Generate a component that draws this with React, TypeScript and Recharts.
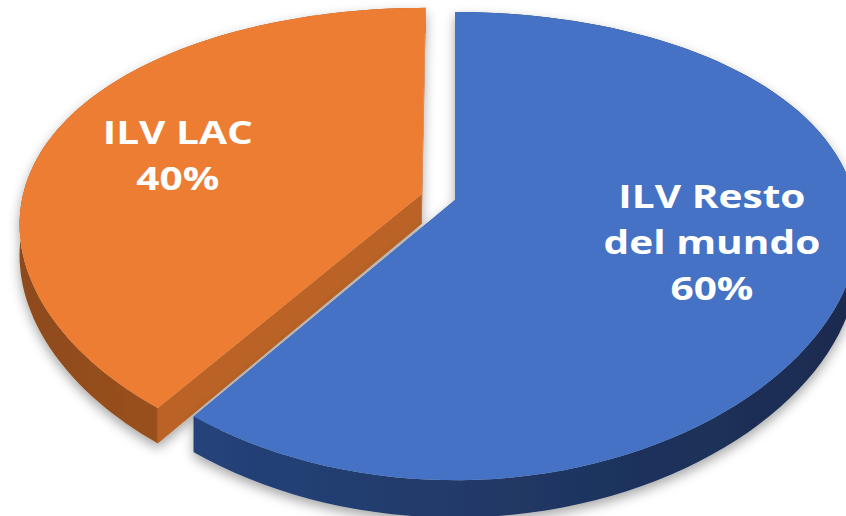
import { PieChart, Pie } from 'recharts';

// shares of ILV
const categories = ['ILV LAC', 'ILV Resto del mundo'];
const shares = [40, 60];

const topColors = ['#ED7D31', '#4472C4'];
const sideColors = [
  ['#8E4A1C', '#B05C26'],
  ['#25437A', '#1B2B4E'],
];
const edgeColors = ['#BB6327', '#2C4C88'];

const data = categories.map((name, i) => ({ name, value: shares[i] }));

// fake 3D look: tilt + a little perspective
const TILT = 0.5625;
const PERSP_Y = 0.197;
const PERSP_X = 0.124;
const DEPTH = 30;
const EXPLODED = 0;
const EXPLODE_DIST = 35;

const rad = (a: number) => (a * Math.PI) / 180;

function project(cx: number, cy: number, R: number, px: number, pz: number, drop = 0): [number, number] {
  const t = -pz / R;
  const sx = 1 / (1 - PERSP_X * t);
  const sy = 1 / (1 - PERSP_Y * t);
  return [cx + px * sx, cy + (-pz * TILT + drop) * sy];
}

function offsetFor(index: number, mid: number) {
  const d = index === EXPLODED ? EXPLODE_DIST : 0;
  return [d * Math.cos(rad(mid)), d * Math.sin(rad(mid))];
}

const toPath = (pts: [number, number][]) =>
  'M' + pts.map((p) => p[0].toFixed(1) + ',' + p[1].toFixed(1)).join('L') + 'Z';

function Slice3D(props: any) {
  const { cx, cy, outerRadius: R, startAngle, endAngle, index } = props;
  const mid = (startAngle + endAngle) / 2;
  const [ox, oz] = offsetFor(index, mid);
  const at = (r: number, a: number, drop = 0) =>
    project(cx, cy, R, ox + r * Math.cos(rad(a)), oz + r * Math.sin(rad(a)), drop);

  const steps = 100;
  const arc = (drop: number) =>
    Array.from({ length: steps + 1 }, (_, k) => at(R, startAngle + ((endAngle - startAngle) * k) / steps, drop));
  const top = arc(0);
  const low = arc(DEPTH);
  const c0 = at(0, 0, 0);
  const c1 = at(0, 0, DEPTH);

  const band = toPath([...top, ...[...low].reverse()]);
  const edgeA = toPath([c0, top[0], low[0], c1]);
  const edgeB = toPath([c0, top[steps], low[steps], c1]);
  const face = toPath([c0, ...top]);

  return (
    <g filter="url(#pieShadow)">
      <path d={edgeA} fill={edgeColors[index]} />
      <path d={edgeB} fill={edgeColors[index]} />
      <path d={band} fill={`url(#side-${index})`} />
      <path d={face} fill={topColors[index]} />
    </g>
  );
}

function wrap(text: string, max: number) {
  const lines: string[] = [];
  let cur = '';
  text.split(' ').forEach((w) => {
    if (cur && (cur + ' ' + w).length > max) {
      lines.push(cur);
      cur = w;
    } else {
      cur = cur ? cur + ' ' + w : w;
    }
  });
  if (cur) lines.push(cur);
  return lines;
}

const renderLabel = (p: any) => {
  const { cx, cy, outerRadius: R, midAngle, index, percent, name } = p;
  const [ox, oz] = offsetFor(index, midAngle);
  const r = R * 0.66;
  const [x, y] = project(
    cx,
    cy,
    R,
    ox + r * Math.cos(rad(midAngle)),
    (oz + r * Math.sin(rad(midAngle))) * 0.9
  );
  const lines = [...wrap(name, 10), `${Math.round(percent * 100)}%`];
  const lh = 46;
  const first = y - ((lines.length - 1) * lh) / 2 + 11.5;
  return (
    <g key={`lbl-${index}`}>
      {lines.map((ln, i) => (
        <text
          key={i}
          transform={`translate(${x},${first + i * lh}) scale(1.27,1)`}
          textAnchor="middle"
          fill="#ffffff"
          fontFamily="'Open Sans', sans-serif"
          fontWeight={700}
          fontSize={32}
        >
          {ln}
        </text>
      ))}
    </g>
  );
};

export default function App() {
  return (
    <div style={{ position: 'absolute', left: 0, top: 0, width: 846, height: 516, background: '#fff', overflow: 'hidden' }}>
      <PieChart width={846} height={516} margin={{ top: 0, right: 0, bottom: 0, left: 0 }}>
        <defs>
          <filter id="pieShadow" x="-20%" y="-20%" width="140%" height="150%">
            <feDropShadow dx="0" dy="5" stdDeviation="6" floodColor="#000" floodOpacity="0.35" />
          </filter>
          {sideColors.map((c, i) => (
            <linearGradient key={i} id={`side-${i}`} x1="0" y1="0" x2="1" y2="0">
              <stop offset="0%" stopColor={c[0]} />
              <stop offset="100%" stopColor={c[1]} />
            </linearGradient>
          ))}
        </defs>
        <Pie
          data={data}
          dataKey="value"
          nameKey="name"
          cx={455}
          cy={200}
          outerRadius={400}
          startAngle={90}
          endAngle={450}
          stroke="none"
          shape={Slice3D}
          inactiveShape={Slice3D}
          activeShape={Slice3D}
          label={renderLabel}
          labelLine={false}
          isAnimationActive={false}
        />
      </PieChart>
    </div>
  );
}
